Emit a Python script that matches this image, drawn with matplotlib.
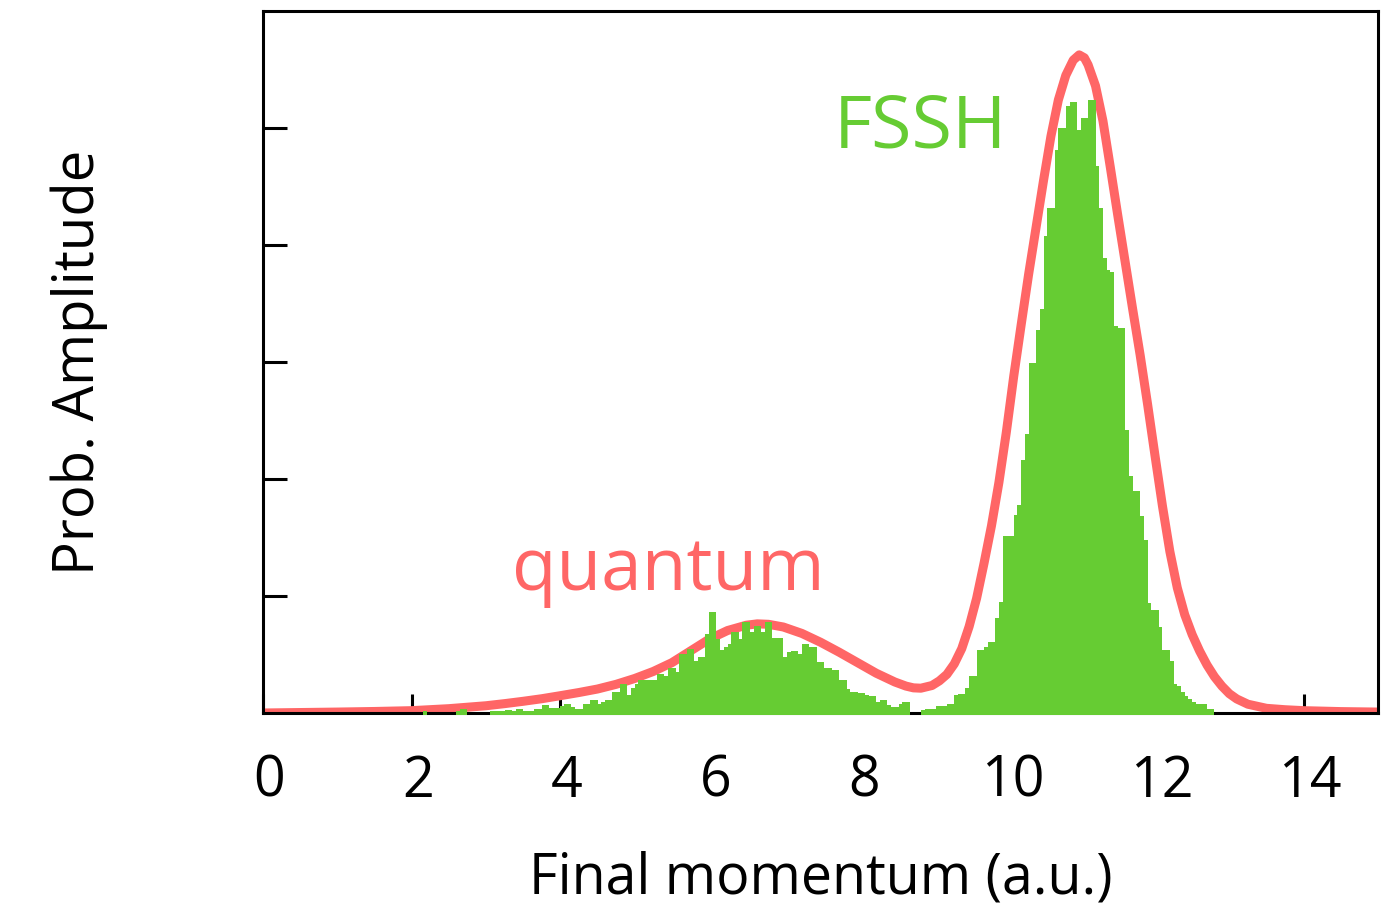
import numpy as np
import matplotlib
matplotlib.use("Agg")
import matplotlib.pyplot as plt
import matplotlib.transforms as mtransforms

plt.rcParams['font.family'] = ['Open Sans', 'DejaVu Sans']

# cores
verde = '#66CC33'
vermelho = '#FF6666'

# curva quântica (momento final, amplitude)
quantum_x = [0.0, 0.5, 1.0, 1.5, 2.0, 2.5, 3.0, 3.25, 3.5, 3.75, 4.0, 4.25, 4.5, 4.75,
             5.0, 5.25, 5.5, 5.75, 6.0, 6.25, 6.5, 6.65, 6.8, 7.0, 7.25, 7.5, 7.75,
             8.0, 8.25, 8.5, 8.65, 8.75, 8.85, 9.0, 9.1, 9.2, 9.3, 9.4, 9.5, 9.6,
             9.7, 9.8, 9.9, 10.0, 10.1, 10.2, 10.3, 10.4, 10.5, 10.6, 10.7, 10.8,
             10.9, 10.98, 11.05, 11.1, 11.2, 11.3, 11.4, 11.5, 11.6, 11.7, 11.8,
             11.9, 12.0, 12.1, 12.2, 12.3, 12.4, 12.5, 12.6, 12.7, 12.8, 12.9,
             13.0, 13.1, 13.25, 13.5, 13.75, 14.0, 14.5, 15.0]
quantum_y = [0.0, 0.004, 0.008, 0.013, 0.02, 0.037, 0.062, 0.08, 0.1, 0.122, 0.148, 0.175, 0.205, 0.245,
             0.295, 0.355, 0.43, 0.53, 0.63, 0.705, 0.75, 0.762, 0.758, 0.735, 0.68, 0.605, 0.52,
             0.43, 0.34, 0.265, 0.23, 0.215, 0.212, 0.235, 0.275, 0.33, 0.42, 0.55, 0.74, 0.98,
             1.28, 1.60, 1.97, 2.40, 2.88, 3.32, 3.75, 4.15, 4.55, 4.93, 5.24, 5.45,
             5.58, 5.625, 5.60, 5.54, 5.36, 5.06, 4.66, 4.25, 3.85, 3.45, 3.06,
             2.64, 2.20, 1.77, 1.38, 1.07, 0.84, 0.67, 0.53, 0.41, 0.31, 0.23,
             0.165, 0.12, 0.075, 0.04, 0.028, 0.02, 0.012, 0.008]

# histograma FSSH: caixas de 0.05 a partir de p = 2.0
fssh_inicio = 2.0
fssh_largura = 0.05
fssh_altura = [
    0, 0, 0, 0.04, 0, 0, 0, 0, 0, 0, 0, 0, 0.035, 0.054, 0.054, 0, 0, 0, 0, 0,
    0, 0.034, 0.034, 0.034, 0.034, 0.048, 0.048, 0.034, 0.054, 0.054, 0.034, 0.034, 0.034, 0.054, 0.054, 0.085, 0.085, 0.062, 0.062, 0.062,
    0.08, 0.094, 0.094, 0.071, 0.057, 0.057, 0.094, 0.094, 0.128, 0.128, 0.094, 0.113, 0.128, 0.128, 0.199, 0.199, 0.27, 0.27, 0.176, 0.233,
    0.27, 0.298, 0.298, 0.298, 0.298, 0.298, 0.355, 0.355, 0.332, 0.403, 0.403, 0.369, 0.525, 0.525, 0.567, 0.567, 0.468, 0.502, 0.502, 0.695,
    0.879, 0.879, 0.652, 0.559, 0.587, 0.61, 0.709, 0.709, 0.652, 0.794, 0.794, 0.709, 0.76, 0.76, 0.709, 0.794, 0.794, 0.658, 0.658, 0.658,
    0.502, 0.539, 0.553, 0.553, 0.525, 0.61, 0.61, 0.587, 0.587, 0.454, 0.454, 0.403, 0.403, 0.389, 0.389, 0.304, 0.304, 0.227, 0.199, 0.199,
    0.19, 0.19, 0.176, 0.162, 0.162, 0.113, 0.128, 0.128, 0.085, 0.071, 0.071, 0.099, 0.113, 0.113, 0, 0, 0, 0.043, 0.057, 0.057,
    0.057, 0.077, 0.077, 0.077, 0.094, 0.094, 0.17, 0.179, 0.184, 0.235, 0.335, 0.335, 0.559, 0.559, 0.587, 0.624, 0.624, 0.831, 0.965, 1.532,
    1.532, 1.532, 1.716, 1.801, 2.179, 2.406, 3.015, 3.015, 3.29, 3.475, 4.094, 4.332, 4.332, 4.83, 5.016, 5.016, 5.206, 5.24, 5.24, 5.0,
    5.106, 5.106, 5.257, 5.257, 4.695, 4.332, 3.906, 3.807, 3.793, 3.325, 3.311, 3.311, 2.44, 2.043, 1.92, 1.92, 1.702, 1.495, 0.956, 0.899,
    0.899, 0.757, 0.559, 0.559, 0.468, 0.264, 0.255, 0.199, 0.162, 0.142, 0.113, 0.094, 0.094, 0.094, 0.057, 0.057,
]

xticks = [0, 2, 4, 6, 8, 10, 12, 14]
yticks = [1, 2, 3, 4, 5]

fig = plt.figure(figsize=(14, 9.05), dpi=100)
ax = fig.add_axes([263 / 1400, 192 / 905, 1115 / 1400, 702 / 905])

# curva quântica fica por baixo dos eixos, barras por cima
ax.plot(quantum_x, quantum_y, color=vermelho, lw=6.5, zorder=2,
        solid_joinstyle='round', solid_capstyle='butt')

esquerdas = fssh_inicio + fssh_largura * np.arange(len(fssh_altura))
ax.bar(esquerdas, fssh_altura, width=fssh_largura, bottom=-0.02, align='edge',
       color=verde, linewidth=0, zorder=3, clip_on=False)

ax.set_xlim(0, 15)
ax.set_ylim(0, 6)
ax.set_xticks(xticks)
ax.set_xticklabels([str(t) for t in xticks])
ax.set_yticks(yticks)
ax.set_yticklabels([])

for lado in ax.spines.values():
    lado.set_linewidth(2.2)
ax.tick_params(axis='x', direction='in', length=14, width=2.2, labelsize=40, pad=29.5)
ax.tick_params(axis='y', direction='in', length=17, width=2.2)

# rótulos dos ticks ligeiramente deslocados para a direita
desloc = mtransforms.ScaledTranslation(6.5 / 100, 0, fig.dpi_scale_trans)
for rotulo in ax.get_xticklabels():
    rotulo.set_transform(rotulo.get_transform() + desloc)

ax.set_xlabel('Final momentum (a.u.)', fontsize=40)
ax.set_ylabel('Prob. Amplitude', fontsize=40.5)
ax.xaxis.set_label_coords(0.5, -0.196)
ax.yaxis.set_label_coords(-0.139, 0.5)

ax.text(7.68, 4.83, 'FSSH', color=verde, fontsize=53, ha='left', va='baseline')
ax.text(3.35, 1.05, 'quantum', color=vermelho, fontsize=52.5, ha='left', va='baseline')

fig.savefig('out.png', dpi=100)
